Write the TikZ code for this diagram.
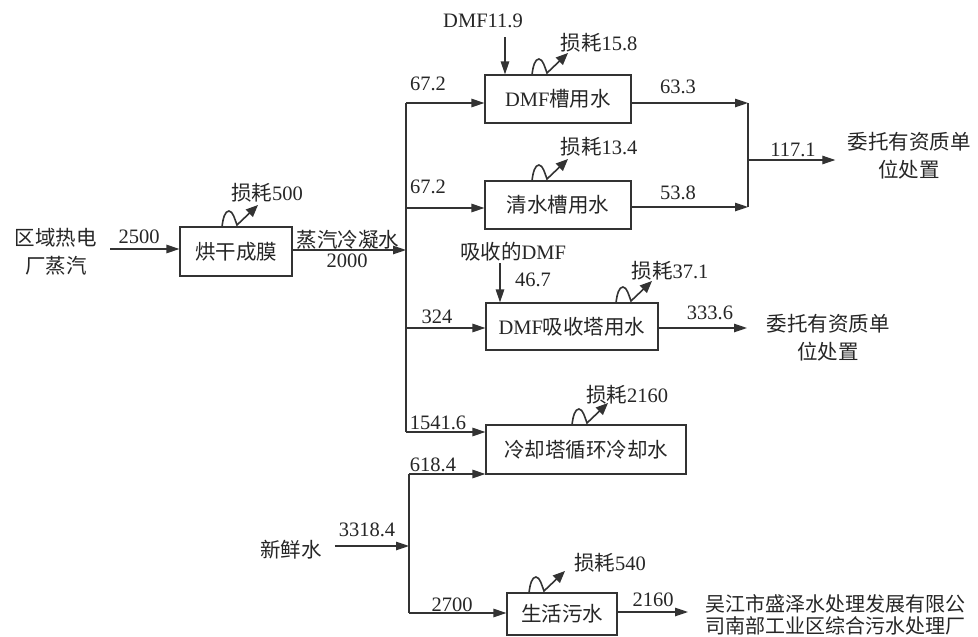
\documentclass[tikz,border=0pt]{standalone}
\usepackage{fontspec}
\setmainfont{Liberation Serif}
\newfontfamily\cjk{Noto Sans CJK SC}
\newcommand\zh[1]{{\cjk #1}}
\usetikzlibrary{arrows.meta}
\begin{document}
\begin{tikzpicture}[x=1pt,y=-1pt,
  every node/.style={text=black!85, font=\fontsize{20.5}{28}\selectfont, inner sep=0pt},
  box/.style={draw=black!80, line width=1.2pt},
  ln/.style={draw=black!80, line width=1.2pt},
  arr/.style={ln, -{Triangle[length=13pt,width=8.5pt]}},
  wave/.pic={\draw[ln, line width=1.6pt, -{Triangle[length=12pt,width=10pt]}] (0,0) .. controls (1,-9) and (3,-16) .. (7,-16) .. controls (11,-16) and (13,-7) .. (15,-2) -- (36,-22);}
]
\fill[white] (0,0) rectangle (978,637);
\useasboundingbox (0,0) rectangle (978,637);

% boxes
\node[box, minimum width=112pt, minimum height=49pt] (b1) at (236,251.5) {\zh{烘干成膜}};
\node[box, minimum width=146pt, minimum height=48pt] (b2) at (558,99) {DMF\zh{槽用水}};
\node[box, minimum width=146pt, minimum height=48pt] (b3) at (558,205) {\zh{清水槽用水}};
\node[box, minimum width=172pt, minimum height=47pt] (b4) at (572,326.5) {DMF\zh{吸收塔用水}};
\node[box, minimum width=200pt, minimum height=49pt] (b5) at (586,449.5) {\zh{冷却塔循环冷却水}};
\node[box, minimum width=110pt, minimum height=42pt] (b6) at (562,614) {\zh{生活污水}};

% sources / sinks
\node[align=center] (src) at (56,252) {\zh{区域热电}\\\zh{厂蒸汽}};
\node (fresh) at (291,550) {\zh{新鲜水}};
\node (dmf) at (483,21) {DMF11.9};
\node (abs) at (513,252) {\zh{吸收的}DMF};
\node[align=center] (dst1) at (909,156) {\zh{委托有资质单}\\\zh{位处置}};
\node[align=center] (dst2) at (828,337.5) {\zh{委托有资质单}\\\zh{位处置}};
\node[align=center, font=\fontsize{20}{22}\selectfont] (dst3) at (835,615) {\zh{吴江市盛泽水处理发展有限公}\\\zh{司南部工业区综合污水处理厂}};

% junction coordinates
\coordinate (j1) at (406,250);
\coordinate (v1t) at (406,103);
\coordinate (j2) at (406,208);
\coordinate (j4) at (406,328);
\coordinate (v1b) at (406,432);
\coordinate (v2t) at (409,474);
\coordinate (v2m) at (409,546);
\coordinate (v2b) at (409,613);
\coordinate (m1) at (748,103);
\coordinate (m2) at (748,207);
\coordinate (m3) at (748,160);
\coordinate (o4) at (747,328);
\coordinate (o6) at (688,612);
\coordinate (d1) at (505,37);
\coordinate (d2) at (500,263);

% connectors
\draw[arr] ([xshift=13pt]src.east |- 0,249) -- (b1.west |- 0,249);
\draw[arr] (j1 -| b1.east) -- (j1);
\draw[ln] (v1t) -- (v1b);
\draw[arr] (v1t) -- (v1t -| b2.west);
\draw[arr] (j2) -- (j2 -| b3.west);
\draw[arr] (j4) -- (j4 -| b4.west);
\draw[arr] (v1b) -- (v1b -| b5.west);
\draw[arr] (d1) -- (d1 |- b2.north);
\draw[arr] (d2) -- (d2 |- b4.north);
\draw[arr] (m1 -| b2.east) -- (m1);
\draw[arr] (m2 -| b3.east) -- (m2);
\draw[ln] (m1) -- (m2);
\draw[arr] (m3) -- ([xshift=-12pt]dst1.west |- m3);
\draw[arr] (o4 -| b4.east) -- (o4);
\draw[ln] (v2t) -- (v2b);
\draw[arr] (v2t) -- (v2t -| b5.west);
\draw[arr] (v2b) -- (v2b -| b6.west);
\draw[arr] ([xshift=13pt]fresh.east |- v2m) -- (v2m);
\draw[arr] (o6 -| b6.east) -- (o6);

% loss waves
\pic at (222,227) {wave};
\pic at (532,75) {wave};
\pic at (532,181) {wave};
\pic at (616,303) {wave};
\pic at (572,425) {wave};
\pic at (529,593) {wave};

% labels
\node (l2500) at (139,237) {2500};
\node (ls500) at (267,193) {\zh{损耗}500};
\node (lsteam) at (348,240) {\zh{蒸汽冷凝水}};
\node (l2000) at (347,261) {2000};
\node (l672a) at (428,84) {67.2};
\node (l672b) at (428,187) {67.2};
\node (l324) at (437,317) {324};
\node (l1541) at (438,423) {1541.6};
\node (l618) at (433,465) {618.4};
\node (ls158) at (599,43) {\zh{损耗}15.8};
\node (ls134) at (599,147) {\zh{损耗}13.4};
\node (ls371) at (670,271) {\zh{损耗}37.1};
\node (ls2160) at (627,395) {\zh{损耗}2160};
\node (ls540) at (610,563) {\zh{损耗}540};
\node (l633) at (678,87) {63.3};
\node (l538) at (678,193) {53.8};
\node (l1171) at (793,150) {117.1};
\node (l3336) at (710,313) {333.6};
\node (l2160) at (653,600) {2160};
\node (l3318) at (367,530) {3318.4};
\node (l2700) at (452,605) {2700};
\node (l467) at (533,280) {46.7};
\end{tikzpicture}
\end{document}
